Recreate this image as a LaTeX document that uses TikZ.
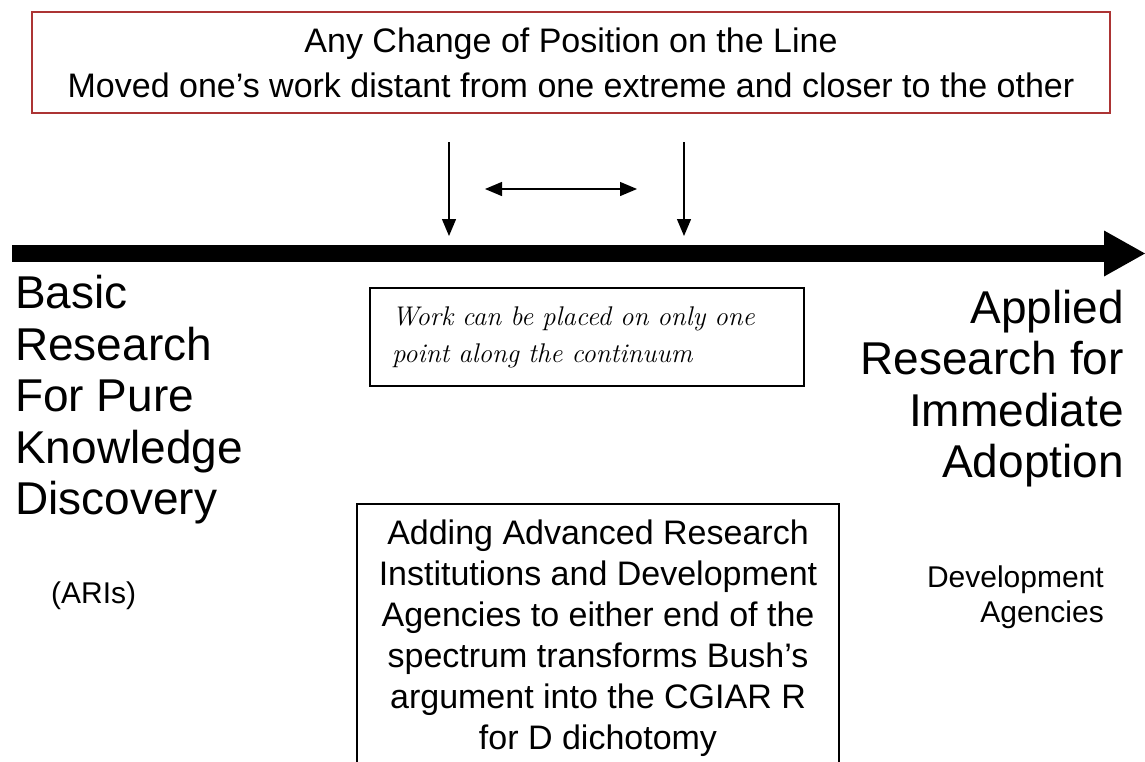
\documentclass[tikz,border=0pt]{standalone}
\usepackage{fontspec}
\newfontfamily\arialfont{Liberation Sans}
\usetikzlibrary{arrows.meta}
\definecolor{boxred}{RGB}{172,52,52}

\begin{document}
\begin{tikzpicture}[x=1pt,y=-1pt,
  bigtext/.style={inner sep=0pt,font=\arialfont\fontsize{46}{51.5}\selectfont},
  smalltext/.style={inner sep=0pt,font=\arialfont\fontsize{30}{35}\selectfont},
  midtext/.style={font=\arialfont\fontsize{34}{41}\selectfont},
  pointer/.style={line width=1.3pt,>={Triangle[length=17pt,width=14pt]}}]
  \useasboundingbox (0,0) rectangle (1145,761);
  \node[draw=boxred,line width=1.5pt,minimum width=1078pt,minimum height=101pt,inner sep=0pt,align=center,
    font=\arialfont\fontsize{34}{45}\selectfont] (change) at (571,62.5)
    {Any Change of Position on the Line\\Moved one’s work distant from one extreme and closer to the other};
  \coordinate (axisL) at (12,253.5);
  \coordinate (axisE) at (1106,253.5);
  \coordinate (axisR) at (1145,253.5);
  \draw[line width=17pt] (axisL) -- (axisE);
  \fill (axisR) -- ++(-41,-23) -- ++(0,46) -- cycle;
  \coordinate (lefttop) at (449,142);
  \coordinate (lefttip) at (449,236);
  \coordinate (righttop) at (684,142);
  \coordinate (righttip) at (684,236);
  \coordinate (moveL) at (485,189);
  \coordinate (moveR) at (637,189);
  \draw[pointer,->] (lefttop) -- (lefttip);
  \draw[pointer,->] (righttop) -- (righttip);
  \draw[pointer,<->] (moveL) -- (moveR);
  \node[bigtext,anchor=west,align=left] (basic) at (15,400) {Basic\\Research\\For Pure\\Knowledge\\Discovery};
  \node[bigtext,anchor=east,align=right] (applied) at (1124,388.6) {Applied\\Research for\\Immediate\\Adoption};
  \node[draw,line width=1.3pt,minimum width=434pt,minimum height=98pt,text width=390pt,inner xsep=22pt,align=left,
    font=\itshape\fontsize{27}{37}\selectfont] (onepoint) at (587,337)
    {Work can be placed on only one\\point along the continuum};
  \node[smalltext,anchor=base west] (aris) at (51,603) {(ARIs)};
  \node[smalltext,anchor=east,align=right] (devag) at (1104,597) {Development\\Agencies};
  \node[draw,line width=1.3pt,minimum width=482pt,minimum height=268pt,align=center,midtext] (bush) at (598,638)
    {Adding Advanced Research\\Institutions and Development\\Agencies to either end of the\\spectrum transforms Bush’s\\argument into the CGIAR R\\for D dichotomy};
\end{tikzpicture}
\end{document}
